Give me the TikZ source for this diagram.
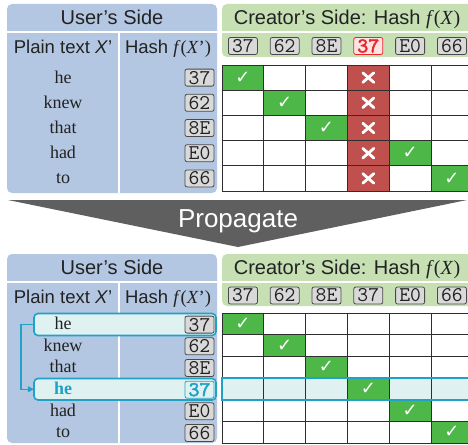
\documentclass[tikz,border=0pt]{standalone}
\usepackage{fontspec}
\setmainfont{Liberation Serif}
\setsansfont{Liberation Sans}
\newfontfamily\symfont{DejaVu Sans}
\newfontfamily\monobold[FakeBold=2.5]{lmmono10-regular.otf}
\usetikzlibrary{arrows.meta}

\definecolor{userblue}{HTML}{B4C7E2}
\definecolor{creatorgreen}{HTML}{C6E0B4}
\definecolor{okgreen}{HTML}{4DB748}
\definecolor{badred}{HTML}{C0504D}
\definecolor{badfill}{HTML}{FFE2E2}
\definecolor{badtext}{HTML}{E8282C}
\definecolor{hashgray}{HTML}{D9D9D9}
\definecolor{hashline}{HTML}{4A4A4A}
\definecolor{hicyan}{HTML}{1FA2C6}
\definecolor{hifill}{HTML}{E0F1F1}
\definecolor{arrowgray}{HTML}{5F5F5F}
\definecolor{gridline}{HTML}{2E2E2E}
\definecolor{ink}{HTML}{222222}

\tikzset{
  panel/.style={rounded corners=5pt},
  divider/.style={white, line width=1.5pt},
  headtext/.style={font=\sffamily\fontsize{20}{22}\selectfont, text=ink, inner sep=0pt, anchor=base},
  subtext/.style={font=\sffamily\fontsize{18.5}{20}\selectfont, text=ink, inner sep=0pt, anchor=base},
  word/.style={font=\fontsize{18}{20}\selectfont, text=ink, inner sep=0pt, anchor=base},
  hotword/.style={word, font=\bfseries\fontsize{18}{20}\selectfont, text=hicyan},
  hashbox/.style={draw=hashline, fill=hashgray, rounded corners=2pt, line width=0.8pt,
    font=\ttfamily\fontsize{21}{21}\selectfont, text=ink,
    minimum width=29pt, minimum height=17pt, inner sep=0pt},
  badhash/.style={hashbox, draw=badtext, fill=badfill, text=badtext, font=\monobold\fontsize{21}{21}\selectfont},
  hothash/.style={hashbox, draw=hicyan, fill=hifill, text=hicyan, font=\monobold\fontsize{21}{21}\selectfont},
  gridstroke/.style={draw=gridline, line width=0.8pt},
  tick/.style={text=white, inner sep=0pt, font=\symfont\fontsize{18}{18}\selectfont},
  cross/.style={white, line width=2.8pt, line cap=round},
  hibox/.style={draw=hicyan, fill=hifill, line width=1.6pt, rounded corners=4pt},
  hiline/.style={draw=hicyan, line width=1.6pt},
  link/.style={draw=hicyan, line width=1.5pt, -{Triangle[length=6pt,width=6pt]}},
}

\begin{document}
\begin{tikzpicture}[x=1pt, y=-1pt]
\clip (0,0) rectangle (468,444);
\fill[white] (0,0) rectangle (468,444);

% ---------- upper table: before propagation ----------
% user panel
\fill[userblue, panel] (7,4) rectangle (217,193);
\draw[divider] (7,32) -- (217,32);
\draw[divider] (119,32) -- (119,193);
\node[headtext] (uhead1) at (112,25) {User’s Side};
\node[subtext] (uplain1) at (63,53.5) {Plain text \textit{X}’};
\node[subtext] (uhash1) at (168,53.5) {Hash \textrm{\textit{f}(\textit{X}’)}};

% creator panel
\fill[creatorgreen, panel] (222,4) rectangle (485,57);
\draw[divider] (222,32) -- (485,32);
\node[headtext] (chead1) at (347,25) {Creator’s Side: Hash \textrm{\textit{f}(\textit{X})}};
\foreach \h/\s [count=\j] in {37/hashbox, 62/hashbox, 8E/hashbox, 37/badhash, E0/hashbox, 66/hashbox}
  \node[\s] (ch1\j) at ({222+41.8*(\j-0.5)}, 46) {\h};

% user rows
\foreach \w/\h [count=\i] in {he/37, knew/62, that/8E, had/E0, to/66} {
  \node[word] (tw\i) at (63, {65+25.2*(\i-0.5)+5.4}) {\w};
  \node[hashbox] (th\i) at (199.5, {65+25.2*(\i-0.5)}) {\h};
}

% match grid
\fill[white] (222,65) rectangle (480,191);
\fill[badred] (347.4,65) rectangle (389.2,191);
\foreach \c/\r in {1/1, 2/2, 3/3, 5/4, 6/5}
  \fill[okgreen] ({222+41.8*(\c-1)}, {65+25.2*(\r-1)}) rectangle ++(41.8,25.2);
\foreach \k in {0,...,6}
  \draw[gridstroke] ({222+41.8*\k}, 65) -- ({222+41.8*\k}, 191);
\foreach \k in {0,...,5}
  \draw[gridstroke] (222, {65+25.2*\k}) -- (480, {65+25.2*\k});
\foreach \c/\r in {1/1, 2/2, 3/3, 5/4, 6/5}
  \node[tick] (ok1\r) at ({222+41.8*(\c-0.5)}, {65+25.2*(\r-0.5)}) {✓};
\foreach \r in {1,...,5} {
  \draw[cross] (368.3-5.5, {65+25.2*(\r-0.5)-4.8}) -- (368.3+5.5, {65+25.2*(\r-0.5)+4.8});
  \draw[cross] (368.3-5.5, {65+25.2*(\r-0.5)+4.8}) -- (368.3+5.5, {65+25.2*(\r-0.5)-4.8});
}

% ---------- propagation arrow ----------
\fill[arrowgray] (8,200) -- (467,200) -- (238,247) -- cycle;
\node[font=\sffamily\fontsize{26}{26}\selectfont, text=white, inner sep=0pt, anchor=base] (prop) at (238,227.5) {Propagate};

% ---------- lower table: after propagation ----------
\fill[userblue, panel] (7,254) rectangle (217,443);
\draw[divider] (7,282) -- (217,282);
\draw[divider] (119,282) -- (119,443);
\node[headtext] (uhead2) at (112,274.5) {User’s Side};
\node[subtext] (uplain2) at (63,303.5) {Plain text \textit{X}’};
\node[subtext] (uhash2) at (168,303.5) {Hash \textrm{\textit{f}(\textit{X}’)}};

\fill[creatorgreen, panel] (222,254) rectangle (485,306);
\draw[divider] (222,282) -- (485,282);
\node[headtext] (chead2) at (347,274.5) {Creator’s Side: Hash \textrm{\textit{f}(\textit{X})}};
\foreach \h [count=\j] in {37, 62, 8E, 37, E0, 66}
  \node[hashbox] (ch2\j) at ({222+41.8*(\j-0.5)}, 295.5) {\h};

% highlighted duplicate rows on the user side
\draw[hibox] (34,313.5) rectangle (216,335.5);
\node[inner sep=0pt, minimum width=182pt, minimum height=22pt] (hl1) at (125,324.5) {};
\draw[hibox] (34,378.5) rectangle (216,400);
\node[inner sep=0pt, minimum width=182pt, minimum height=21.5pt] (hl2) at (125,389.25) {};

\foreach \w/\h/\ws/\hs [count=\i] in {he/37/word/hashbox, knew/62/word/hashbox, that/8E/word/hashbox,
                                      he/37/hotword/hothash, had/E0/word/hashbox, to/66/word/hashbox} {
  \node[\ws] (bw\i) at (63, {313+21.67*(\i-0.5)+5.5}) {\w};
  \node[\hs] (bh\i) at (199.5, {313+21.67*(\i-0.5)+0.8}) {\h};
}

% link from the first occurrence to the repeated one
\draw[link] (hl1.west) -- ++(-13,0) |- (hl2.west);

% match grid after propagation
\fill[white] (222,313) rectangle (480,443);
\fill[hifill] (222,378) rectangle (480,399.7);
\foreach \r in {1,...,6}
  \fill[okgreen] ({222+41.8*(\r-1)}, {313+21.67*(\r-1)}) rectangle ++(41.8,21.67);
\foreach \k in {0,...,6}
  \draw[gridstroke] ({222+41.8*\k}, 313) -- ({222+41.8*\k}, 443);
\foreach \k in {0,...,6}
  \draw[gridstroke] (222, {313+21.67*\k}) -- (480, {313+21.67*\k});
\draw[hiline] (480,378) -- (222,378) -- (222,399.7) -- (480,399.7);
\foreach \r in {1,...,6}
  \node[tick] (ok2\r) at ({222+41.8*(\r-0.5)}, {313+21.67*(\r-0.5)}) {✓};
\end{tikzpicture}
\end{document}
